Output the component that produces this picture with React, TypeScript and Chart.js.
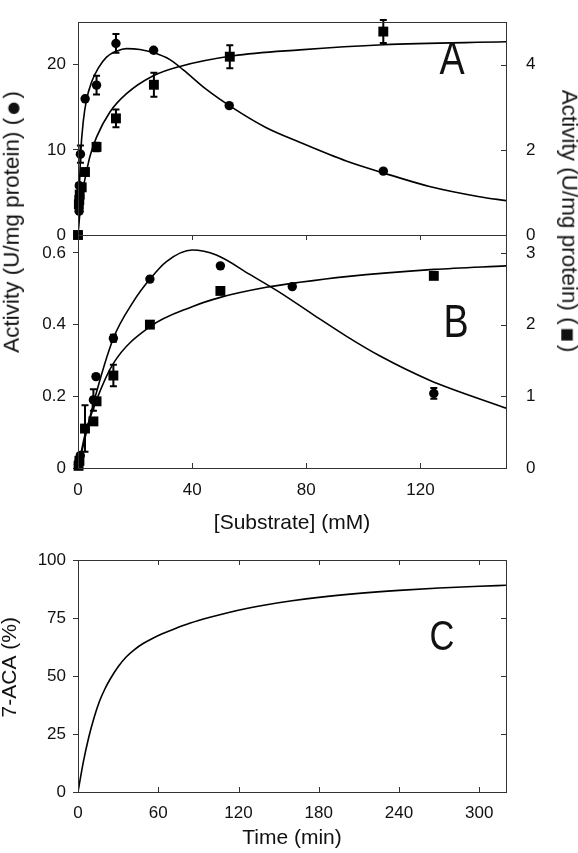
import React, { useEffect, useRef } from "react";
import { Chart, registerables } from "chart.js";
Chart.register(...registerables);

const W = 578;
const H = 853;
const FONT = "'Liberation Sans', Arial, sans-serif";
const INK = "#111";
const FRAME = "#333";

// ---------- Panel A ----------
const aCircX = [0.4, 0.45, 0.85, 2.5, 6.5, 13.3, 26.5, 53, 107];
const aCircY = [2.8, 5.8, 9.5, 16, 17.6, 22.5, 21.7, 15.2, 7.5];
const aCircErr = [0, 0, 1.0, 0, 1.1, 1.1, 0, 0, 0];

const aSqX = [0, 0.3, 0.45, 0.6, 1.3, 2.45, 6.5, 13.3, 26.6, 53.2, 107];
const aSqY = [0, 0.72, 0.82, 0.95, 1.12, 1.48, 2.07, 2.74, 3.53, 4.19, 4.78];
const aSqErr = [0, 0, 0, 0, 0, 0, 0.1, 0.21, 0.28, 0.27, 0.27];

const aCircFitX = [0, 0.3, 0.93, 1.87, 3, 4.8, 7.1, 10, 13.5, 17, 21.7, 26.7, 32.2, 36.9, 45, 54.4, 66, 77.7, 94, 107, 123.2, 140.7, 150];
const aCircFitY = [0, 3.5, 9.5, 13.4, 15.9, 18, 19.6, 20.9, 21.6, 21.9, 21.8, 21.4, 20.6, 19.4, 17.1, 14.9, 12.6, 10.9, 8.7, 7.3, 5.7, 4.5, 4.04];

const aSqFitX = [0, 0.93, 1.63, 2.45, 4.2, 6.5, 11.2, 17, 26.4, 35.7, 54.4, 77.7, 107, 150];
const aSqFitY = [0, 0.7, 1.05, 1.32, 1.85, 2.3, 2.89, 3.32, 3.74, 3.96, 4.21, 4.35, 4.47, 4.54];

// ---------- Panel B ----------
const bCircX = [0.2, 0.4, 0.8, 2.45, 5.4, 6.3, 12.4, 25.2, 49.9, 75.1, 124.7];
const bCircY = [0.01, 0.02, 0.035, 0.11, 0.19, 0.255, 0.362, 0.527, 0.564, 0.506, 0.208];
const bCircErr = [0, 0, 0, 0.065, 0.03, 0, 0.01, 0, 0, 0, 0.015];

const bSqX = [0.2, 0.5, 2.45, 5.4, 6.5, 12.4, 25.2, 49.9, 124.7];
const bSqY = [0.03, 0.1, 0.55, 0.65, 0.93, 1.29, 2.0, 2.47, 2.68];
const bSqErr = [0, 0, 0, 0, 0, 0.15, 0, 0, 0];

const bCircFitX = [0, 2.5, 5.4, 12.4, 19.4, 25.2, 31, 40, 48.5, 60.2, 70.7, 82.4, 94, 105.7, 123.2, 150];
const bCircFitY = [0, 0.085, 0.18, 0.362, 0.464, 0.527, 0.576, 0.608, 0.594, 0.54, 0.49, 0.428, 0.368, 0.313, 0.245, 0.167];

const bSqFitX = [0, 2.5, 6.5, 12.4, 25.2, 40, 49.9, 66, 77.7, 94, 124.7, 150];
const bSqFitY = [0, 0.47, 0.95, 1.46, 1.97, 2.25, 2.38, 2.52, 2.59, 2.67, 2.77, 2.82];

// ---------- Panel C ----------
const cTime = [0, 4, 8, 12, 16, 20, 24, 30, 36, 42, 49, 56, 63, 72, 84, 98, 112, 126, 140, 160, 180, 210, 240, 270, 300, 320];
const cACA = [0, 13, 23.5, 32, 39, 44.3, 48.6, 54, 58.2, 61.3, 64.1, 66.3, 68.2, 70.3, 72.8, 75.2, 77.3, 79.1, 80.6, 82.4, 83.9, 85.6, 86.9, 87.9, 88.7, 89.1];

// tick labels
const xSubTicks = [0, 40, 80, 120];
const xTimeTicks = [0, 60, 120, 180, 240, 300];

const pts = (xs: number[], ys: number[]) => xs.map((x, i) => ({ x, y: ys[i] }));

const framePlugin = {
  id: "frame",
  afterDraw(chart: any, _a: any, opts: any) {
    const { ctx, chartArea: a } = chart;
    ctx.save();
    ctx.strokeStyle = FRAME;
    ctx.lineWidth = 1;
    ctx.strokeRect(Math.round(a.left) + 0.5, Math.round(a.top) + 0.5, Math.round(a.right - a.left), Math.round(a.bottom - a.top));
    for (const t of opts.ticks || []) {
      const s = chart.scales[t.scale];
      for (const tk of s.ticks) {
        const p = Math.round(s.getPixelForValue(tk.value)) + 0.5;
        ctx.beginPath();
        if (t.side === "top") { ctx.moveTo(p, a.top); ctx.lineTo(p, a.top + t.len); }
        if (t.side === "bottom") { ctx.moveTo(p, a.bottom); ctx.lineTo(p, a.bottom - t.len); }
        if (t.side === "right") { ctx.moveTo(a.right, p); ctx.lineTo(a.right - t.len, p); }
        if (t.side === "left") { ctx.moveTo(a.left, p); ctx.lineTo(a.left + t.len, p); }
        ctx.stroke();
      }
    }
    ctx.restore();
  },
};

const errPlugin = {
  id: "errbars",
  beforeDatasetsDraw(chart: any) {
    const { ctx } = chart;
    ctx.save();
    ctx.strokeStyle = "#000";
    ctx.lineWidth = 2;
    chart.data.datasets.forEach((ds: any, i: number) => {
      if (!ds.errors) return;
      const meta = chart.getDatasetMeta(i);
      const ys = chart.scales[meta.yAxisID];
      meta.data.forEach((el: any, j: number) => {
        const e = ds.errors[j];
        if (!e) return;
        const v = ds.data[j].y;
        const y1 = ys.getPixelForValue(v + e);
        const y2 = ys.getPixelForValue(v - e);
        ctx.beginPath();
        ctx.moveTo(el.x, y1); ctx.lineTo(el.x, y2);
        ctx.moveTo(el.x - 3.5, y1); ctx.lineTo(el.x + 3.5, y1);
        ctx.moveTo(el.x - 3.5, y2); ctx.lineTo(el.x + 3.5, y2);
        ctx.stroke();
      });
    });
    ctx.restore();
  },
};

const tickFont = { family: FONT, size: 17 };
const titleFont = { family: FONT, size: 21, lineHeight: 1.2 };

const curve = (data: any, yAxisID: string) => ({
  data, yAxisID, showLine: true, pointRadius: 0, borderColor: "#000", backgroundColor: "#000",
  borderWidth: 1.6, cubicInterpolationMode: "monotone", order: 2,
});
const marks = (data: any, yAxisID: string, style: string, errors: number[]) => ({
  data, yAxisID, showLine: false, pointStyle: style, pointRadius: style === "rect" ? 7 : 4.7,
  pointBorderWidth: 0, backgroundColor: "#000", borderColor: "#000", clip: false, errors, order: 1,
});

const leftY = (min: number, max: number, step: number, width: number, extra: any = {}) => ({
  position: "left", min, max,
  ticks: { stepSize: step, includeBounds: false, font: tickFont, color: INK, padding: 7 },
  grid: { display: true, drawOnChartArea: false, drawTicks: true, tickLength: 5, color: FRAME },
  border: { display: false },
  afterFit: (s: any) => { s.width = width; },
  ...extra,
});
const rightY = (min: number, max: number, step: number) => ({
  position: "right", min, max,
  ticks: { stepSize: step, includeBounds: false, font: tickFont, color: INK, padding: 12 },
  grid: { display: false },
  border: { display: false },
  afterFit: (s: any) => { s.width = W - 506; },
});

const common = {
  responsive: false, animation: false, devicePixelRatio: 1,
  events: [],
};

function makeA(canvas: HTMLCanvasElement) {
  return new Chart(canvas, {
    type: "scatter",
    data: {
      datasets: [
        curve(pts(aCircFitX, aCircFitY), "yL"),
        curve(pts(aSqFitX, aSqFitY), "yR"),
        marks(pts(aCircX, aCircY), "yL", "circle", aCircErr),
        marks(pts(aSqX, aSqY), "yR", "rect", aSqErr),
      ] as any,
    },
    options: {
      ...common,
      layout: { padding: { top: 2, bottom: H - 235, left: 0, right: 0 } },
      plugins: { legend: { display: false }, tooltip: { enabled: false }, frame: { ticks: [{ scale: "yR", side: "right", len: 5 }] } } as any,
      scales: {
        x: { type: "linear", min: 0, max: 150, display: false },
        yL: leftY(0, 25, 10, 78),
        yR: rightY(0, 5, 2),
      } as any,
    },
    plugins: [framePlugin, errPlugin],
  });
}

function makeB(canvas: HTMLCanvasElement) {
  return new Chart(canvas, {
    type: "scatter",
    data: {
      datasets: [
        curve(pts(bCircFitX, bCircFitY), "yL"),
        curve(pts(bSqFitX, bSqFitY), "yR"),
        marks(pts(bCircX, bCircY), "yL", "circle", bCircErr),
        marks(pts(bSqX, bSqY), "yR", "rect", bSqErr),
      ] as any,
    },
    options: {
      ...common,
      layout: { padding: { top: 235, bottom: H - 538, left: 0, right: 0 } },
      plugins: {
        legend: { display: false }, tooltip: { enabled: false },
        frame: { ticks: [
          { scale: "yR", side: "right", len: 5 },
          { scale: "x", side: "top", len: 5 },
          { scale: "x", side: "bottom", len: 5 },
        ] },
      } as any,
      scales: {
        x: {
          type: "linear", min: 0, max: 150,
          afterBuildTicks: (s: any) => { s.ticks = xSubTicks.map((v) => ({ value: v })); },
          ticks: { font: tickFont, color: INK, padding: 4 },
          grid: { display: false }, border: { display: false },
          title: { display: true, text: "[Substrate] (mM)", font: titleFont, color: INK, padding: { top: 0, bottom: 2 } },
          afterFit: (s: any) => { s.height = 70; },
        },
        yL: leftY(0, 0.65, 0.2, 78),
        yR: rightY(0, 3.25, 1),
      } as any,
    },
    plugins: [framePlugin, errPlugin],
  });
}

function makeC(canvas: HTMLCanvasElement) {
  return new Chart(canvas, {
    type: "scatter",
    data: {
      datasets: [curve(pts(cTime, cACA), "y")] as any,
    },
    options: {
      ...common,
      layout: { padding: { top: 560, bottom: 0, left: 0, right: W - 506 } },
      plugins: {
        legend: { display: false }, tooltip: { enabled: false },
        frame: { ticks: [
          { scale: "y", side: "right", len: 5 },
          { scale: "x", side: "top", len: 5 },
          { scale: "x", side: "bottom", len: 5 },
        ] },
      } as any,
      scales: {
        x: {
          type: "linear", min: 0, max: 320,
          afterBuildTicks: (s: any) => { s.ticks = xTimeTicks.map((v) => ({ value: v })); },
          ticks: { font: tickFont, color: INK, padding: 3 },
          grid: { display: false }, border: { display: false },
          title: { display: true, text: "Time (min)", font: titleFont, color: INK, padding: { top: 0, bottom: 2 } },
          afterFit: (s: any) => { s.height = H - 792; },
        },
        y: leftY(0, 100, 25, 78, {
          title: { display: true, text: "\u00A0\u00A0\u00A07-ACA (%)", font: { family: FONT, size: 21, lineHeight: 1 }, color: INK, padding: { top: 0, bottom: 0 } },
        }),
      } as any,
    },
    plugins: [framePlugin],
  });
}

const abs: React.CSSProperties = { position: "absolute", left: 0, top: 0 };

function Label({ x, y, size, rot = 0, sx = 1, children }: { x: number; y: number; size: number; rot?: number; sx?: number; children: React.ReactNode }) {
  return (
    <div
      style={{
        position: "absolute", left: x, top: y, whiteSpace: "nowrap",
        fontFamily: FONT, fontSize: size, lineHeight: 1, color: INK,
        transform: `translate(-50%, -50%) rotate(${rot}deg) scaleX(${sx})`,
      }}
    >
      {children}
    </div>
  );
}

const sym: React.CSSProperties = { fontSize: 15, fontFamily: "'DejaVu Sans', sans-serif", verticalAlign: "1px" };

export default function App() {
  const ra = useRef<HTMLCanvasElement>(null);
  const rb = useRef<HTMLCanvasElement>(null);
  const rc = useRef<HTMLCanvasElement>(null);
  useEffect(() => {
    const a = makeA(ra.current!);
    const b = makeB(rb.current!);
    const c = makeC(rc.current!);
    return () => { a.destroy(); b.destroy(); c.destroy(); };
  }, []);
  return (
    <div style={{ position: "absolute", left: 0, top: 0, width: W, height: H, background: "#fff", overflow: "hidden" }}>
      <canvas ref={ra} width={W} height={H} style={abs} />
      <canvas ref={rb} width={W} height={H} style={abs} />
      <canvas ref={rc} width={W} height={H} style={abs} />
      <Label x={12} y={222} size={22.5} rot={-90}>
        {"Activity (U/mg protein) ("}<span style={sym}>{"\u2009\u25CF\u2009"}</span>{")"}
      </Label>
      <Label x={569} y={221} size={22.5} rot={90}>
        {"Activity (U/mg protein) ("}<span style={sym}>{"\u2009\u25A0\u2009"}</span>{")"}
      </Label>
      <Label x={452} y={58} size={46} sx={0.82}>A</Label>
      <Label x={456} y={321} size={46} sx={0.82}>B</Label>
      <Label x={442} y={636} size={42} sx={0.82}>C</Label>
    </div>
  );
}
